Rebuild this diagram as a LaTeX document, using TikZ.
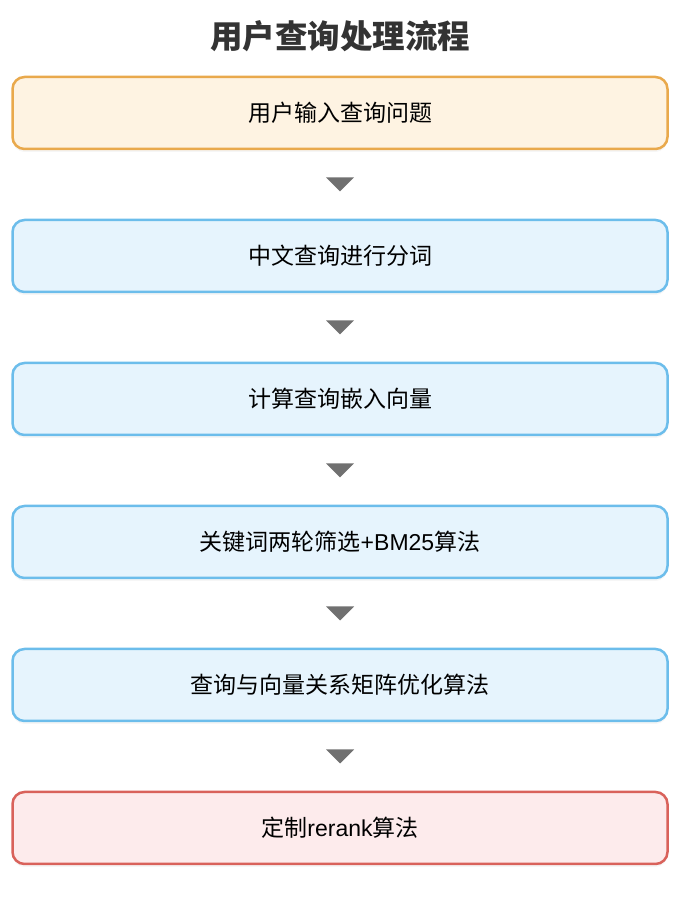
\documentclass[tikz,border=0pt]{standalone}
\usepackage{fontspec}
\newfontfamily\cjk{Noto Sans CJK SC}
\newfontfamily\latin{Liberation Sans}
\usepackage{tikz}
\usetikzlibrary{positioning, shadows, calc}

\definecolor{titlegray}{HTML}{333333}
\definecolor{arrowgray}{HTML}{707070}
\definecolor{startfill}{HTML}{FEF3E2}
\definecolor{startline}{HTML}{E9A94C}
\definecolor{stepfill}{HTML}{E6F4FD}
\definecolor{stepline}{HTML}{6CBDEB}
\definecolor{endfill}{HTML}{FDEBEC}
\definecolor{endline}{HTML}{D9625B}

\tikzset{
    box/.style={rectangle, rounded corners=12pt, line width=2.5pt,
        minimum width=655pt, minimum height=72pt, inner sep=0pt,
        font=\cjk\fontsize{23pt}{27pt}\selectfont, text=black,
        drop shadow={opacity=0.07, shadow xshift=0pt, shadow yshift=-3pt}},
    startbox/.style={box, draw=startline, fill=startfill},
    stepbox/.style={box, draw=stepline, fill=stepfill},
    endbox/.style={box, draw=endline, fill=endfill},
}

\begin{document}
\begin{tikzpicture}[x=1pt, y=1pt, node distance=68.5pt]
            \useasboundingbox (0,0) rectangle (688,898);

            \node[font=\cjk\bfseries\fontsize{32.5pt}{38pt}\selectfont, text=titlegray] (title) at (340,862) {用户查询处理流程};

            \node[startbox] (A) at (340,785)  {用户输入查询问题};
            \node[stepbox]  (B) [below=of A]  {中文查询进行分词};
            \node[stepbox]  (C) [below=of B]  {计算查询嵌入向量};
            \node[stepbox]  (D) [below=of C]  {关键词两轮筛选{\latin +BM25}算法};
            \node[stepbox]  (E) [below=of D]  {查询与向量关系矩阵优化算法};
            \node[endbox]   (F) [below=of E]  {定制{\latin rerank}算法};

            % arrows between the steps
            \foreach \a/\b in {A/B, B/C, C/D, D/E, E/F} {
                \path (\a.south) -- (\b.north) coordinate[midway] (m\a);
                \fill[arrowgray] ($(m\a)+(-14,7)$) -- ($(m\a)+(14,7)$)
                    -- ($(m\a)+(0,-7)$) -- cycle;
            }

        \end{tikzpicture}
\end{document}
